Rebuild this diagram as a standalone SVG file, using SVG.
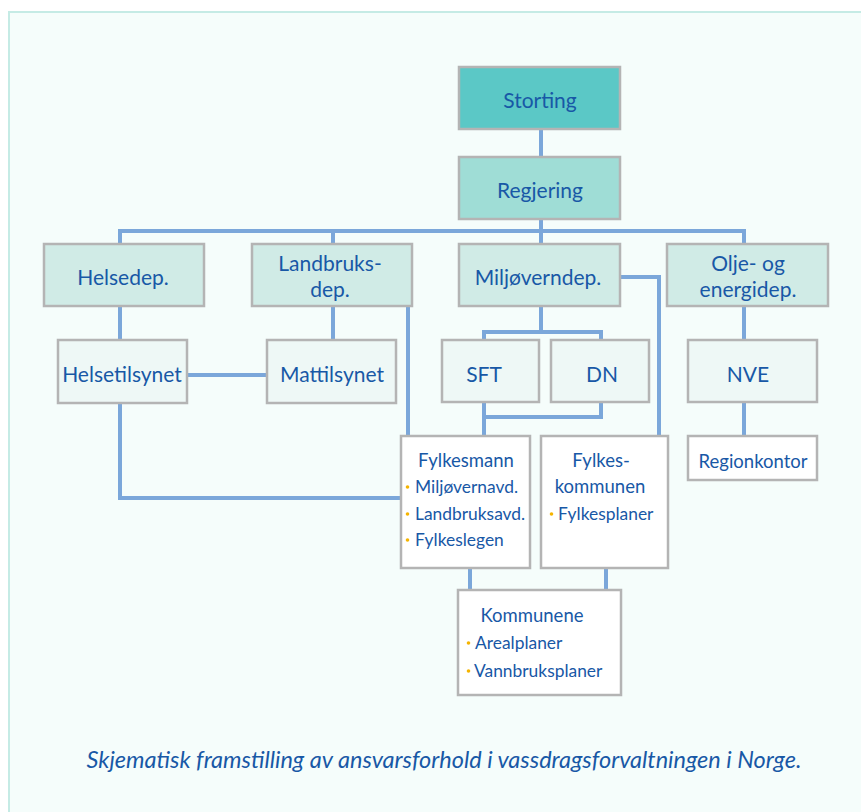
<svg xmlns="http://www.w3.org/2000/svg" width="861" height="812" viewBox="0 0 861 812">
<style>
.ln{fill:none;stroke:#7ba7da;stroke-width:4;stroke-linejoin:miter}
.bx{stroke:#b4b4b4;stroke-width:2.5}
.b0{fill:#5bc8c6}.b1{fill:#9fddd6}.b2{fill:#d0ebe6}.b3{fill:#eef8f6}.b4{fill:#ffffff}
text{font-family:Lato,"Open Sans","Liberation Sans",sans-serif;fill:#1858a6}
.t1{font-size:21px;text-anchor:middle}
.t2{font-size:18.5px;text-anchor:middle}
.t3{font-size:17.4px}
.t3m{font-size:18.5px;text-anchor:middle}
.bul{fill:#f5b400}
.cap{font-size:23.5px;font-style:italic;text-anchor:middle}
</style>
<rect x="0" y="0" width="861" height="812" fill="#ffffff"/>
<rect x="9" y="12" width="870" height="820" fill="#f5fdfb" stroke="#c5ebe5" stroke-width="2"/>
<g id="connectors">
<path class="ln" d="M541 129V157"/>
<path class="ln" d="M541 219V244"/>
<path class="ln" d="M120 244V231H744V244"/>
<path class="ln" d="M333 231V244"/>
<path class="ln" d="M120 306V340"/>
<path class="ln" d="M333 306V340"/>
<path class="ln" d="M187 375H267"/>
<path class="ln" d="M408 306V436"/>
<path class="ln" d="M120 403V498H401"/>
<path class="ln" d="M541 306V332"/>
<path class="ln" d="M484 340V332H601V340"/>
<path class="ln" d="M484 402V417H601V402"/>
<path class="ln" d="M484 417V436"/>
<path class="ln" d="M620 277H659V436"/>
<path class="ln" d="M744 306V340"/>
<path class="ln" d="M744 402V436"/>
<path class="ln" d="M470 568V590"/>
<path class="ln" d="M606 568V590"/>
</g>
<g id="storting"><rect class="bx b0" x="459" y="67" width="161" height="62"/><text class="t1" x="540" y="108">Storting</text></g>
<g id="regjering"><rect class="bx b1" x="459" y="157" width="161" height="62"/><text class="t1" x="540" y="198">Regjering</text></g>
<g id="helsedep"><rect class="bx b2" x="44" y="244" width="160" height="62"/><text class="t1" x="123" y="285">Helsedep.</text></g>
<g id="landbruksdep"><rect class="bx b2" x="252" y="244" width="160" height="62"/><text class="t1" x="330" y="271">Landbruks-</text><text class="t1" x="330" y="297">dep.</text></g>
<g id="miljoverndep"><rect class="bx b2" x="459" y="244" width="161" height="62"/><text class="t1" x="538" y="285">Miljøverndep.</text></g>
<g id="oljeenergidep"><rect class="bx b2" x="667" y="244" width="161" height="62"/><text class="t1" x="748" y="271">Olje- og</text><text class="t1" x="748" y="297">energidep.</text></g>
<g id="helsetilsynet"><rect class="bx b3" x="58" y="340" width="129" height="63"/><text class="t1" x="122" y="382">Helsetilsynet</text></g>
<g id="mattilsynet"><rect class="bx b3" x="267" y="340" width="129" height="63"/><text class="t1" x="332" y="382">Mattilsynet</text></g>
<g id="sft"><rect class="bx b3" x="442" y="340" width="97" height="62"/><text class="t1" x="484" y="382">SFT</text></g>
<g id="dn"><rect class="bx b3" x="551" y="340" width="98" height="62"/><text class="t1" x="602" y="382">DN</text></g>
<g id="nve"><rect class="bx b3" x="688" y="340" width="129" height="62"/><text class="t1" x="748" y="382">NVE</text></g>
<g id="regionkontor"><rect class="bx b4" x="688" y="436" width="129" height="44"/><text class="t2" x="753" y="468">Regionkontor</text></g>
<g id="fylkesmann"><rect class="bx b4" x="401" y="436" width="129" height="132"/>
<text class="t3m" x="466" y="467">Fylkesmann</text>
<circle class="bul" cx="407.5" cy="487" r="1.8"/><text class="t3" x="415" y="493">Miljøvernavd.</text>
<circle class="bul" cx="407.5" cy="514" r="1.8"/><text class="t3" x="415" y="520">Landbruksavd.</text>
<circle class="bul" cx="407.5" cy="540" r="1.8"/><text class="t3" x="415" y="546">Fylkeslegen</text></g>
<g id="fylkeskommunen"><rect class="bx b4" x="541" y="436" width="127" height="132"/>
<text class="t3m" x="601" y="467">Fylkes-</text>
<text class="t3m" x="600" y="493">kommunen</text>
<circle class="bul" cx="551.5" cy="514" r="1.8"/><text class="t3" x="558" y="520">Fylkesplaner</text></g>
<g id="kommunene"><rect class="bx b4" x="458" y="590" width="163" height="105"/>
<text class="t3m" x="532" y="622">Kommunene</text>
<circle class="bul" cx="468.5" cy="643" r="1.8"/><text class="t3" x="475" y="649">Arealplaner</text>
<circle class="bul" cx="468.5" cy="671" r="1.8"/><text class="t3" x="474" y="677">Vannbruksplaner</text></g>
<text class="cap" x="444" y="768">Skjematisk framstilling av ansvarsforhold i vassdragsforvaltningen i Norge.</text>
</svg>
